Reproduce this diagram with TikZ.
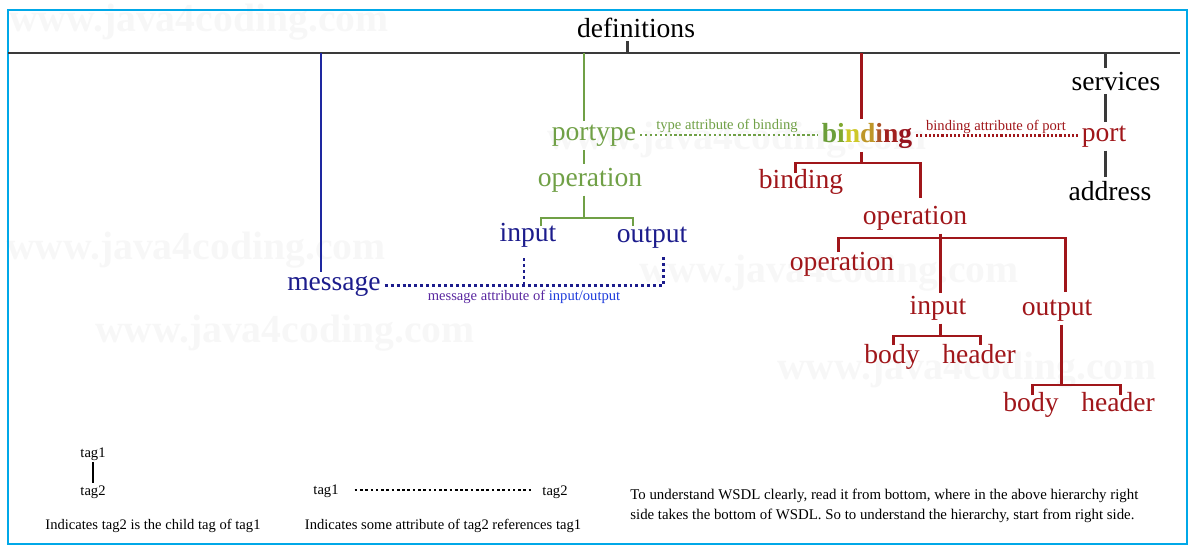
\documentclass[tikz,border=0pt]{standalone}
\usepackage{fontspec}
\setmainfont{Liberation Serif}
\definecolor{framecol}{RGB}{0,168,232}
\definecolor{defgray}{RGB}{58,58,58}
\definecolor{msgblue}{RGB}{28,28,140}
\definecolor{lineblue}{RGB}{30,40,160}
\definecolor{ptgreen}{RGB}{112,160,70}
\definecolor{bdred}{RGB}{160,22,26}
\definecolor{attrviolet}{RGB}{90,40,160}
\definecolor{attrblue}{RGB}{30,60,220}
\definecolor{wmgray}{RGB}{247,247,247}
\tikzset{
  tag/.style={font=\fontsize{15.7}{18}\selectfont, inner sep=2pt, anchor=base},
  note/.style={font=\fontsize{8.3}{10}\selectfont, inner sep=1pt, anchor=base},
  wm/.style={font=\bfseries\fontsize{22.6}{26}\selectfont, text=wmgray, inner sep=0pt},
  blueline/.style={lineblue, line width=1.2pt},
  greenline/.style={ptgreen, line width=1.1pt},
  redline/.style={bdred, line width=1.7pt},
  blackline/.style={defgray, line width=1.7pt},
  dotline/.style={line width=#1, dash pattern=on #1 off #1},
}
\begin{document}
\begin{tikzpicture}[x=0.02cm, y=-0.02cm]
    \useasboundingbox (0,0) rectangle (1197,551);
    %filigrana
    \node[wm] (wma) at (199,22) {www.java4coding.com};
    \node[wm] (wmb) at (196,250) {www.java4coding.com};
    \node[wm] (wmc) at (285,333) {www.java4coding.com};
    \node[wm] (wmd) at (737,140) {www.java4coding.com};
    \node[wm] (wme) at (829,273) {www.java4coding.com};
    \node[wm] (wmf) at (967,370) {www.java4coding.com};
    \draw[framecol, line width=0.9pt] (8,10) rectangle (1187,544);

    %radice
    \node[tag] (definitions) at (636,37) {definitions};
    \coordinate (tl) at (8,53);
    \coordinate (tr) at (1180,53);
    \coordinate (d0) at (627,53);
    \draw[blackline] (tl) -- (tr);
    \draw[blackline] (d0) -- (d0 |- definitions.south);

    %ramo message
    \node[tag, text=msgblue] (message) at (334,290) {message};
    \coordinate (m0) at (321,53);
    \draw[blueline] (m0) -- (m0 |- message.north);

    %ramo portype
    \node[tag, text=ptgreen] (portype) at (594,140) {portype};
    \node[tag, text=ptgreen] (ptop) at (590,186) {operation};
    \node[tag, text=msgblue] (ptin) at (528,241) {input};
    \node[tag, text=msgblue] (ptout) at (652,242) {output};
    \coordinate (g0) at (584,53);
    \coordinate (gj) at (584,218);
    \coordinate (gl) at (541,226);
    \coordinate (gr) at (633,226);
    \draw[greenline] (g0) -- (g0 |- portype.north);
    \draw[greenline] (g0 |- portype.south) -- (g0 |- ptop.north);
    \draw[greenline] (g0 |- ptop.south) -- (gj);
    \draw[greenline] (gl) |- (gj) -| (gr);

    %attributo message
    \coordinate (ki) at (524,258);
    \coordinate (ko) at (663,255);
    \draw[dotline=1.7pt, msgblue] (message.east) -| (ko);
    \draw[dotline=1.7pt, msgblue] (ki) -- (ki |- message.east);
    \node[note] (msgattr) at (524,300) {\textcolor{attrviolet}{message attribute of} \textcolor{attrblue}{input/output}};

    %ramo binding
    \node[tag, font=\bfseries\fontsize{15.7}{18}\selectfont] (binding) at (867,142)
      {\textcolor[RGB]{108,158,58}{b}\textcolor[RGB]{128,168,48}{i}\textcolor[RGB]{205,200,40}{n}\textcolor[RGB]{190,150,40}{d}\textcolor[RGB]{172,84,40}{i}\textcolor[RGB]{160,32,30}{n}\textcolor[RGB]{150,20,30}{g}};
    \node[tag, text=bdred] (bdbinding) at (801,188) {binding};
    \node[tag, text=bdred] (bdop) at (915,224) {operation};
    \node[tag, text=bdred] (bdopop) at (842,270) {operation};
    \node[tag, text=bdred] (bdin) at (938,314) {input};
    \node[tag, text=bdred] (bdout) at (1057,315) {output};
    \node[tag, text=bdred] (inbody) at (892,363) {body};
    \node[tag, text=bdred] (inheader) at (979,363) {header};
    \node[tag, text=bdred] (outbody) at (1031,411) {body};
    \node[tag, text=bdred] (outheader) at (1118,411) {header};
    \coordinate (r0) at (861,53);
    \coordinate (rj) at (861,163);
    \coordinate (rl) at (795,173);
    \coordinate (rr) at (920,198);
    \draw[redline] (r0) -- (r0 |- binding.north);
    \draw[redline] (r0 |- binding.south) -- (rj);
    \draw[redline] (rl) |- (rj) -| (rr);
    \coordinate (oj) at (940,238);
    \coordinate (ol) at (838,252);
    \coordinate (or) at (1065,292);
    \coordinate (oi) at (940,293);
    \draw[redline] (oj |- bdop.south) -- (oi);
    \draw[redline] (ol) |- (oj) -| (or);
    \coordinate (ij) at (940,336);
    \coordinate (il) at (893,345);
    \coordinate (ir) at (980,345);
    \draw[redline] (ij |- bdin.south) -- (ij);
    \draw[redline] (il) |- (ij) -| (ir);
    \coordinate (uj) at (1061,385);
    \coordinate (ul) at (1032,395);
    \coordinate (ur) at (1120,395);
    \draw[redline] (uj |- bdout.south) -- (uj);
    \draw[redline] (ul) |- (uj) -| (ur);

    %ramo services
    \node[tag] (services) at (1116,90) {services};
    \node[tag, text=bdred] (port) at (1104,141) {port};
    \node[tag] (address) at (1110,200) {address};
    \coordinate (s0) at (1105,53);
    \draw[blackline] (s0) -- (s0 |- services.north);
    \draw[blackline] (s0 |- services.south) -- (s0 |- port.north);
    \draw[blackline] (s0 |- port.south) -- (s0 |- address.north);

    %attributi type e binding
    \node[note, text=ptgreen] (typeattr) at (727,129) {type attribute of binding};
    \node[note, text=bdred] (bindattr) at (996,130) {binding attribute of port};
    \draw[dotline=1.4pt, ptgreen] (portype.east) -- (portype.east -| binding.west);
    \draw[dotline=1.2pt, bdred] (binding.east) -- (binding.east -| port.west);

    %legenda
    \node[note] (lt1) at (93,457) {tag1};
    \node[note] (lt2) at (93,495) {tag2};
    \draw[line width=0.9pt] (lt1.south) -- (lt2.north);
    \node[note] (lcap) at (153,529) {Indicates tag2 is the child tag of tag1};
    \node[note] (rt1) at (326,494) {tag1};
    \node[note] (rt2) at (555,495) {tag2};
    \draw[dotline=1.5pt, shorten <=8pt, shorten >=4pt] (rt1.east |- 0,490) -- (rt2.west |- 0,490);
    \node[note] (rcap) at (443,529) {Indicates some attribute of tag2 references tag1};
    \node[note, anchor=north west, align=left, inner sep=0pt, font=\fontsize{8.45}{11.3}\selectfont] (hint) at (630,489)
      {To understand WSDL clearly, read it from bottom, where in the above hierarchy right\\side takes the bottom of WSDL. So to understand the hierarchy, start from right side.};
\end{tikzpicture}
\end{document}
